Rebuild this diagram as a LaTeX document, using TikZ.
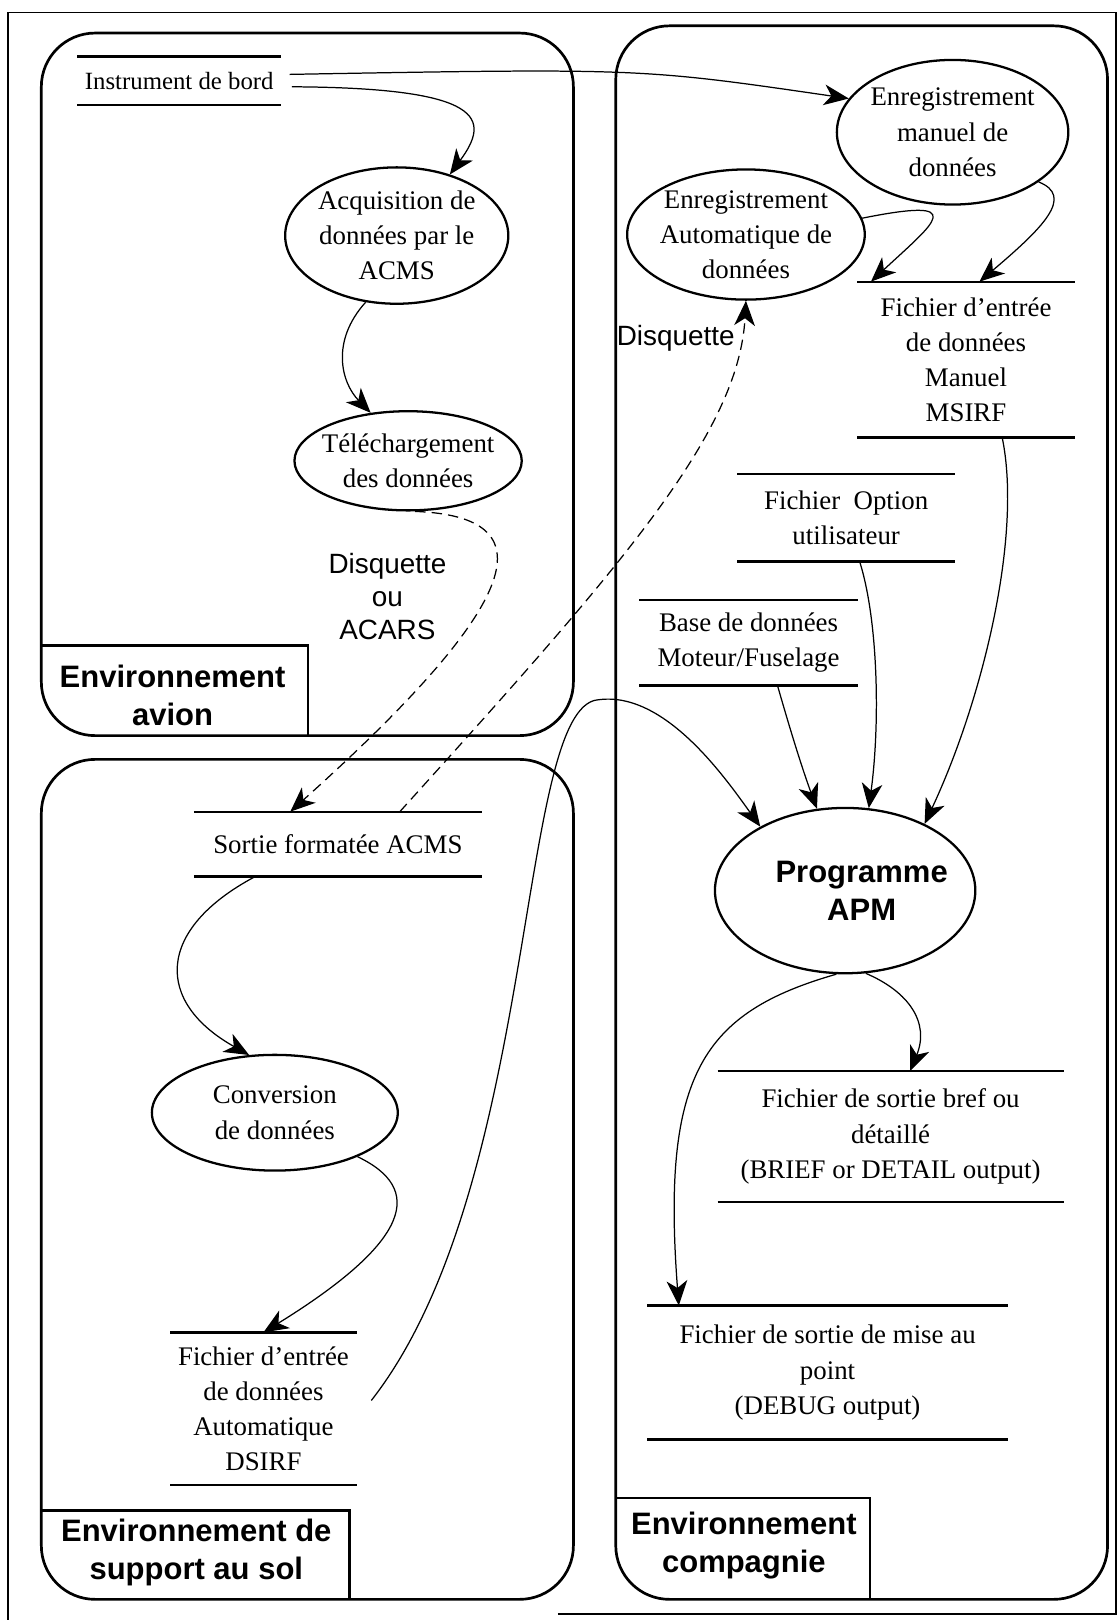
\documentclass[tikz,border=0pt]{standalone}
\usepackage{fontspec}
\setmainfont{Liberation Serif}
\setsansfont{Liberation Sans}
\usetikzlibrary{shapes.geometric,arrows.meta}

\begin{document}
\begin{tikzpicture}[x=0.5pt,y=-0.5pt,
    txt/.style={align=center,font=\fontsize{13}{17}\selectfont},
    proc/.style={draw,ellipse,line width=1.1pt,inner sep=0pt},
    store/.style={txt,inner sep=0pt},
    envbox/.style={rounded corners=26pt,line width=1.3pt},
    envname/.style={align=center,font=\sffamily\bfseries\fontsize{15}{18.5}\selectfont},
    medium/.style={align=center,font=\sffamily\fontsize{13.5}{16}\selectfont},
    flow/.style={line width=0.6pt,-{Stealth[length=12pt,width=10pt,inset=3.5pt]}},
    media/.style={flow,dash pattern=on 5pt off 3pt}]
\useasboundingbox (0,0) rectangle (1082,1568);

% cadre
\draw[line width=0.8pt] (540,1562) -| (1080,12) -| (8,1568);

% environnements
\draw[envbox] (40,32) rectangle (555,712);
\draw[envbox] (40,735) rectangle (555,1548);
\draw[envbox] (596,25) rectangle (1072,1548);
\draw[line width=1.3pt] (40,625) -| (298,712);
\draw[line width=1.3pt] (40,1462) -| (338,1548);
\draw[line width=1.3pt] (596,1450) -| (842,1548);
\node[envname] (navion) at (167,673) {Environnement\\avion};
\node[envname] (nsol) at (190,1503) {Environnement de\\support au sol};
\node[envname] (ncomp) at (720,1496) {Environnement\\compagnie};

% processus
\node[proc,minimum width=108pt,minimum height=66pt,
      label={[txt]center:Acquisition de\\données par le\\ACMS}] (acq) at (384,228) {};
\node[proc,minimum width=110pt,minimum height=48pt,
      label={[txt]center:Téléchargement\\des données}] (tele) at (395,446) {};
\node[proc,minimum width=112pt,minimum height=70pt,
      label={[txt]center:Enregistrement\\manuel de\\données}] (enrm) at (922,128) {};
\node[proc,minimum width=115pt,minimum height=63pt,
      label={[txt]center:Enregistrement\\Automatique de\\données}] (enra) at (722,227) {};
\node[proc,minimum width=126pt,minimum height=80pt,
      label={[envname,xshift=8pt]center:Programme\\APM}] (apm) at (818,862) {};
\node[proc,minimum width=119pt,minimum height=56pt,
      label={[txt]center:Conversion\\de données}] (conv) at (266,1077) {};

% fichiers
\node[store,minimum width=98.5pt,minimum height=23pt,font=\fontsize{12}{15}\selectfont] (instr) at (173.5,78) {Instrument de bord};
\node[store,minimum width=105pt,minimum height=75pt] (msirf) at (935,348) {Fichier d’entrée\\de données\\Manuel\\MSIRF};
\node[store,minimum width=105pt,minimum height=42pt] (option) at (819,501) {Fichier~ Option\\utilisateur};
\node[store,minimum width=105.5pt,minimum height=41pt] (base) at (724.5,622) {Base de données\\Moteur/Fuselage};
\node[store,minimum width=139pt,minimum height=31pt] (sortie) at (327,817) {Sortie formatée ACMS};
\node[store,minimum width=90pt,minimum height=73.5pt] (dsirf) at (255,1363.5) {Fichier d’entrée\\de données\\Automatique\\DSIRF};
\node[store,minimum width=167pt,minimum height=63pt] (brief) at (862,1100) {Fichier de sortie bref ou\\détaillé\\(BRIEF or DETAIL output)};
\node[store,minimum width=174pt,minimum height=64.5pt] (debug) at (801,1328.5) {Fichier de sortie de mise au\\point\\(DEBUG output)};
\foreach \s in {instr,msirf,option,base,sortie,dsirf,brief,debug}
  \draw[line width=1.1pt] (\s.north west) -- (\s.north east) (\s.south west) -- (\s.south east);

\node[medium] (support) at (375,577) {Disquette\\ou\\ACARS};
\node[medium] (disq) at (654,327) {Disquette};

% flux
\draw[flow] ([xshift=4pt,yshift=3pt]instr.east) .. controls (620,66) .. (enrm.162);
\draw[flow] ([xshift=5pt,yshift=-3pt]instr.east) .. controls (470,85) and (475,115) .. (acq.49);
\draw[flow] (acq.245) .. controls (320,330) and (330,370) .. (tele.128);
\draw[media] (tele.278) .. controls (530,500) and (510,580) .. ([xshift=-23pt]sortie.north);
\draw[media] ([xshift=30pt]sortie.north) .. controls (600,550) and (715,420) .. (enra.south);
\draw[flow] (enra.8) .. controls (940,190) and (905,215) .. ([xshift=-46pt]msirf.north);
\draw[flow] (enrm.330) .. controls (1040,190) and (1010,220) .. ([xshift=6.5pt]msirf.north);
\draw[flow] ([xshift=17.5pt]msirf.south) .. controls (990,520) and (950,680) .. (apm.40);
\draw[flow] ([xshift=6.5pt]option.south) .. controls (850,600) and (852,700) .. (apm.74);
\draw[flow] ([xshift=14pt]base.south) .. controls (763,700) and (775,740) .. (apm.109);
\draw[flow] ([xshift=7pt,yshift=4pt]dsirf.east) .. controls (520,1150) and (500,700) .. (575,678)
  .. controls (640,665) and (700,750) .. (apm.143);
\draw[flow] ([xshift=-40pt]sortie.south) .. controls (150,900) and (150,970) .. (conv.114);
\draw[flow] (conv.332) .. controls (410,1150) and (400,1200) .. (dsirf.north);
\draw[flow] (apm.284) .. controls (880,960) and (900,990) .. ([xshift=9.5pt]brief.north);
\draw[flow] (apm.264) .. controls (680,980) and (640,1040) .. ([xshift=-72pt]debug.north);
\end{tikzpicture}
\end{document}
